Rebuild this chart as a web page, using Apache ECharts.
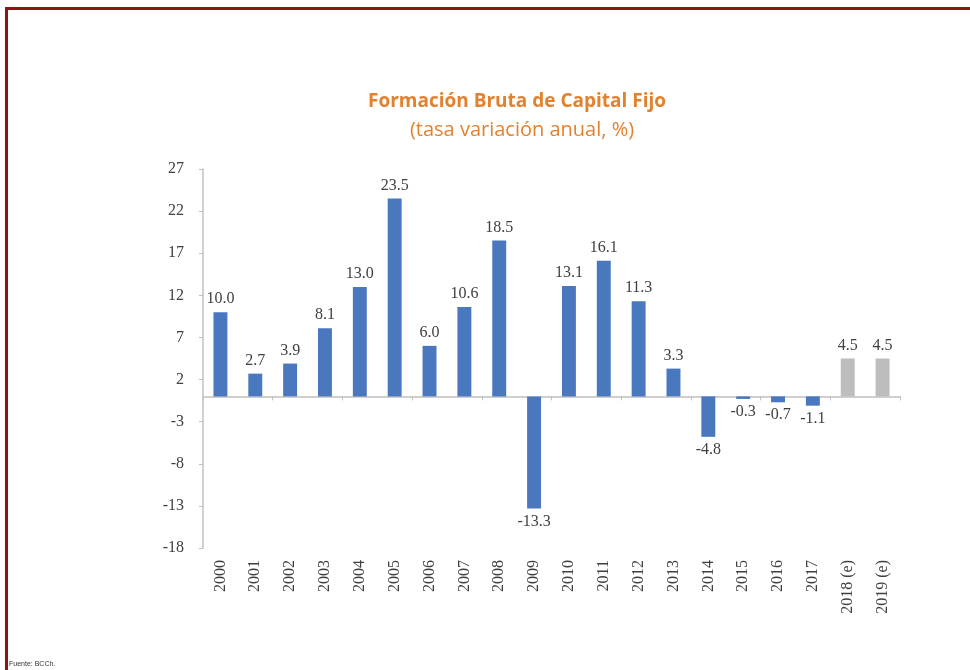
<!DOCTYPE html>
<html>
<head>
<meta charset="utf-8">
<script src="https://cdn.jsdelivr.net/npm/echarts@6/dist/echarts.min.js"></script>
<style>
  html, body { margin: 0; padding: 0; background: #fff; }
  #frame { position: absolute; left: 5px; top: 7px; width: 980px; height: 680px;
           border-top: 3px solid #8e1414; border-left: 3px solid #8e1414; }
  #chart { position: absolute; left: 0; top: 0; width: 970px; height: 670px; }
</style>
</head>
<body>
<div id="frame"></div>
<div id="chart"></div>
<script>
  // años y tasa de variación anual (%)
  var years = ['2000', '2001', '2002', '2003', '2004', '2005', '2006', '2007', '2008', '2009',
    '2010', '2011', '2012', '2013', '2014', '2015', '2016', '2017', '2018 (e)', '2019 (e)'];
  var values = [10.0, 2.7, 3.9, 8.1, 13.0, 23.5, 6.0, 10.6, 18.5, -13.3,
    13.1, 16.1, 11.3, 3.3, -4.8, -0.3, -0.7, -1.1, 4.5, 4.5];
  var yTicks = [-18, -13, -8, -3, 2, 7, 12, 17, 22, 27];

  var serif = 'Liberation Serif';

  var chart = echarts.init(document.getElementById('chart'));

  var barData = values.map(function (v, i) {
    var est = years[i].indexOf('(e)') >= 0;
    return {
      value: v,
      itemStyle: {color: est ? '#bdbdbd' : '#4a78be'},
      label: {position: v < 0 ? 'bottom' : 'top'}
    };
  });

  var option = {
    backgroundColor: 'transparent',
    animation: false,
    title: [
      {
        text: 'Formación Bruta de Capital Fijo',
        left: 512, top: 87, textAlign: 'center',
        textStyle: {color: '#e2822f', fontFamily: 'Open Sans', fontSize: 19, fontWeight: 'bold'}
      },
      {
        text: '(tasa variación anual, %)',
        left: 517, top: 115, textAlign: 'center',
        textStyle: {color: '#e2822f', fontFamily: 'Open Sans', fontSize: 20, fontWeight: 'normal'}
      }
    ],
    graphic: [
      {
        type: 'text', left: 9, top: 661,
        style: {text: 'Fuente: BCCh.', fill: '#333', font: '7px Liberation Sans'}
      }
    ],
    grid: {left: 203, right: 70, top: 169, bottom: 122},
    xAxis: [
      {
        type: 'category',
        data: years,
        position: 'bottom',
        axisLine: {show: false, onZero: false},
        axisTick: {show: false},
        axisLabel: {
          rotate: 90, interval: 0, margin: 12,
          color: '#404040', fontFamily: serif, fontSize: 16
        }
      },
      {
        type: 'category',
        data: years,
        position: 'top',
        axisLine: {show: true, onZero: true, lineStyle: {color: '#c0c0c0', width: 1.5}},
        axisTick: {show: true, inside: true, length: 4, lineStyle: {color: '#c0c0c0'}},
        axisLabel: {show: false}
      }
    ],
    yAxis: {
      type: 'value',
      min: yTicks[0],
      max: yTicks[yTicks.length - 1],
      interval: yTicks[1] - yTicks[0],
      axisLine: {show: true, lineStyle: {color: '#c0c0c0', width: 1.5}},
      axisTick: {show: true, length: 4, lineStyle: {color: '#c0c0c0'}},
      splitLine: {show: false},
      axisLabel: {color: '#404040', fontFamily: serif, fontSize: 16, margin: 19}
    },
    series: [
      {
        type: 'bar',
        xAxisIndex: 0,
        data: barData,
        barWidth: '40%',
        label: {
          show: true,
          color: '#404040',
          fontFamily: serif,
          fontSize: 16,
          distance: 5,
          formatter: function (p) { return p.value.toFixed(1); }
        }
      }
    ]
  };

  chart.setOption(option);
</script>
</body>
</html>
